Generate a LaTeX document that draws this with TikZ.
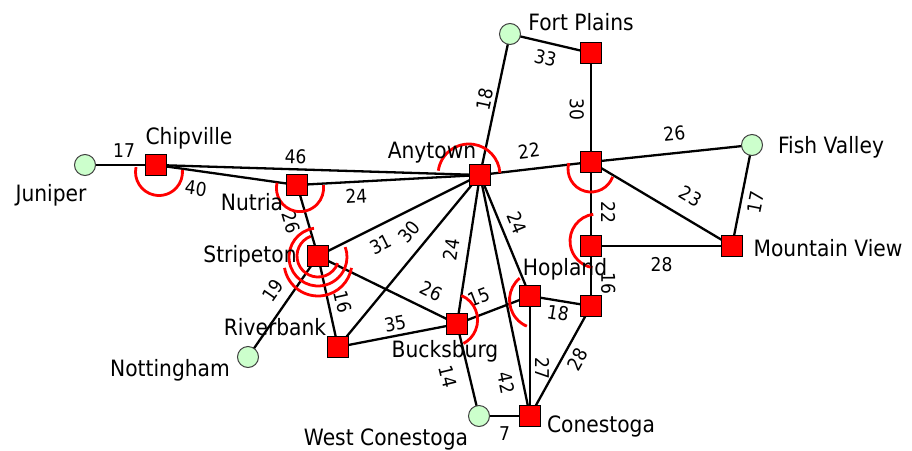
\documentclass[tikz,border=0pt]{standalone}
\usepackage{fontspec}
\setmainfont[FakeStretch=0.9]{DejaVu Sans}
\usepackage{tikz}
\usetikzlibrary{backgrounds}

\tikzset{
	stop/.style={draw=black, line width=1pt, fill=red, minimum size=21pt, inner sep=0pt},
	halt/.style={circle, draw=black!75, line width=1pt, fill=green!20, minimum size=21pt, inner sep=0pt},
	town/.style={anchor=base, inner sep=0pt, font=\fontsize{22.5}{27}\selectfont},
	road/.style={line width=2.3pt},
	dist/.style={sloped, inner sep=0pt, font=\fontsize{19}{23}\selectfont},
	turn/.style={red, line width=2.8pt}
}

\begin{document}
\begin{tikzpicture}[x=1pt, y=-1pt]
		\useasboundingbox (0,0) rectangle (912,450);
		\node[halt] (juniper) at (85,165) {};
		\node[stop] (chipville) at (156,165) {};
		\node[stop] (nutria) at (297,185) {};
		\node[stop] (anytown) at (480,175) {};
		\node[halt] (fortplains) at (510,34) {};
		\node[stop] (fortplainsx) at (591,53) {};
		\node[stop] (cross) at (591,162) {};
		\node[halt] (fishvalley) at (752,145) {};
		\node[stop] (mountainview) at (732,246) {};
		\node[stop] (fork) at (591,246) {};
		\node[stop] (junction) at (591,306) {};
		\node[stop] (hopland) at (530,296) {};
		\node[stop] (bucksburg) at (457,324) {};
		\node[stop] (stripeton) at (318,256) {};
		\node[stop] (riverbank) at (338,347) {};
		\node[halt] (nottingham) at (248,357) {};
		\node[halt] (westconestoga) at (479,416) {};
		\node[stop] (conestoga) at (530,416) {};
		\node[town] (juniperlbl) at (51,201) {Juniper};
		\node[town] (chipvillelbl) at (189,144) {Chipville};
		\node[town] (nutrialbl) at (252,210) {Nutria};
		\node[town] (anytownlbl) at (432,158) {Anytown};
		\node[town] (fortplainslbl) at (581,30) {Fort Plains};
		\node[town] (fishvalleylbl) at (831,153) {Fish Valley};
		\node[town] (mountainviewlbl) at (828,256) {Mountain View};
		\node[town] (hoplandlbl) at (565,275) {Hopland};
		\node[town] (stripetonlbl) at (250,262) {Stripeton};
		\node[town] (riverbanklbl) at (275,335) {Riverbank};
		\node[town] (nottinghamlbl) at (170,376) {Nottingham};
		\node[town] (bucksburglbl) at (445,357) {Bucksburg};
		\node[town] (westconestogalbl) at (386,445) {West Conestoga};
		\node[town] (conestogalbl) at (601,432) {Conestoga};
		\begin{pgfonlayer}{background}
		\draw[road] (juniper.center) -- node[dist, pos=0.55, above=6pt] {17} (chipville.center);
		\draw[road] (chipville.center) -- node[dist, pos=0.43, above=4pt] {46} (anytown.center);
		\draw[road] (chipville.center) -- node[dist, pos=0.3, below=9pt] {40} (nutria.center);
		\draw[road] (nutria.center) -- node[dist, pos=0.32, below=6pt] {24} (anytown.center);
		\draw[road] (nutria.center) -- node[dist, pos=0.46, below=8pt] {26} (stripeton.center);
		\draw[road] (stripeton.center) -- node[dist, pos=0.34, below=9pt] {31} (anytown.center);
		\draw[road] (riverbank.center) -- node[dist, pos=0.6, above=10pt] {30} (anytown.center);
		\draw[road] (bucksburg.center) -- node[dist, pos=0.48, above=9pt] {24} (anytown.center);
		\draw[road] (stripeton.center) -- node[dist, pos=0.76, above=10pt] {26} (bucksburg.center);
		\draw[road] (stripeton.center) -- node[dist, pos=0.54, above=6pt] {16} (riverbank.center);
		\draw[road] (stripeton.center) -- node[dist, pos=0.44, above=9pt] {19} (nottingham.center);
		\draw[road] (riverbank.center) -- node[dist, pos=0.5, above=4pt] {35} (bucksburg.center);
		\draw[road] (bucksburg.center) -- node[dist, pos=0.38, above=9pt] {15} (hopland.center);
		\draw[road] (anytown.center) -- node[dist, pos=0.45, above=8pt] {24} (hopland.center);
		\draw[road] (anytown.center) -- node[dist, pos=0.85, below=8pt] {42} (conestoga.center);
		\draw[road] (bucksburg.center) -- node[dist, pos=0.52, below=13pt] {14} (westconestoga.center);
		\draw[road] (westconestoga.center) -- node[dist, pos=0.5, below=9pt] {7} (conestoga.center);
		\draw[road] (hopland.center) -- node[dist, pos=0.6, above=4pt] {27} (conestoga.center);
		\draw[road] (junction.center) -- node[dist, pos=0.42, below=6pt] {28} (conestoga.center);
		\draw[road] (hopland.center) -- node[dist, pos=0.49, below=4pt] {18} (junction.center);
		\draw[road] (fork.center) -- node[dist, pos=0.62, above=9pt] {16} (junction.center);
		\draw[road] (cross.center) -- node[dist, pos=0.6, above=9pt] {22} (fork.center);
		\draw[road] (fork.center) -- node[dist, pos=0.5, below=10pt] {28} (mountainview.center);
		\draw[road] (cross.center) -- node[dist, pos=0.63, above=13pt] {23} (mountainview.center);
		\draw[road] (fishvalley.center) -- node[dist, pos=0.54, below=7pt] {17} (mountainview.center);
		\draw[road] (cross.center) -- node[dist, pos=0.53, above=11pt] {26} (fishvalley.center);
		\draw[road] (anytown.center) -- node[dist, pos=0.46, above=10pt] {22} (cross.center);
		\draw[road] (fortplainsx.center) -- node[dist, pos=0.52, below=6pt] {30} (cross.center);
		\draw[road] (fortplains.center) -- node[dist, pos=0.48, below=7pt] {33} (fortplainsx.center);
		\draw[road] (fortplains.center) -- node[dist, pos=0.48, above=3pt] {18} (anytown.center);
		\draw[turn] ([shift={(3,7)}]chipville.center) ++(192:23.5) arc[start angle=192, end angle=-5, radius=23.5];
		\draw[turn] ([shift={(3,3)}]nutria.center) ++(193:23.6) arc[start angle=193, end angle=-7, radius=23.6];
		\draw[turn] ([shift={(-11,0)}]anytown.center) ++(188:31) arc[start angle=188, end angle=356, radius=31];
		\draw[turn] ([shift={(0,7)}]cross.center) ++(195:23) arc[start angle=195, end angle=20, radius=23];
		\draw[turn] ([shift={(6,-5)}]fork.center) ++(262:27) arc[start angle=262, end angle=100, radius=27];
		\draw[turn] ([shift={(8,4)}]hopland.center) ++(230:28.5) arc[start angle=230, end angle=113, radius=28.5];
		\draw[turn] ([shift={(-6,-4)}]bucksburg.center) ++(-67:26.6) arc[start angle=-67, end angle=62, radius=26.6];
		\draw[turn] (stripeton.center) ++(250:21) arc[start angle=250, end angle=20, radius=21];
		\draw[turn] ([shift={(0,1)}]stripeton.center) ++(262:29) arc[start angle=262, end angle=-20, radius=29];
		\draw[turn] ([shift={(0,6)}]stripeton.center) ++(170:34) arc[start angle=170, end angle=10, radius=34];
		\end{pgfonlayer}
\end{tikzpicture}
\end{document}
